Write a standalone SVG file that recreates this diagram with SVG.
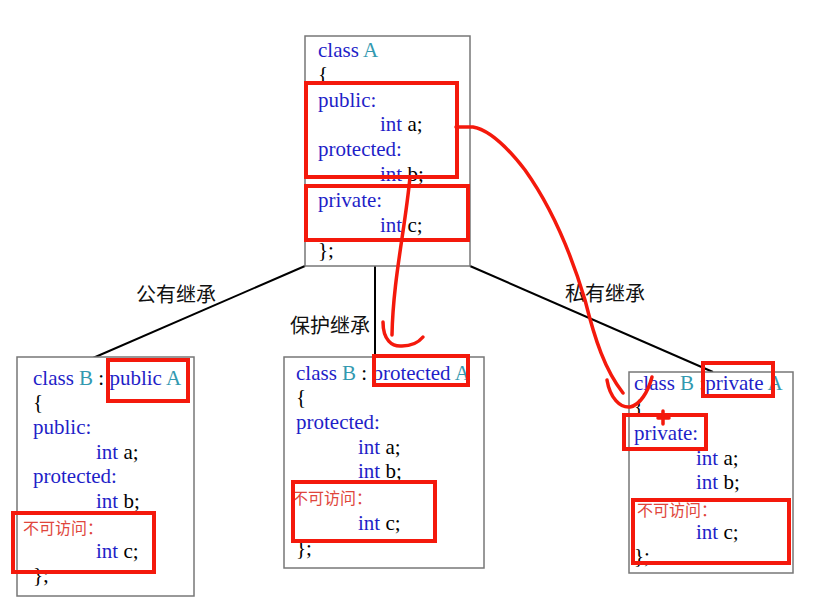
<svg xmlns="http://www.w3.org/2000/svg" width="838" height="614" viewBox="0 0 838 614">
<style>
.box{fill:#fff;stroke:#777;stroke-width:1.5}
.code{font-family:"Liberation Serif","Times New Roman",serif;font-size:21px;fill:#000}
.kw{fill:#1f1fc8}
.ty{fill:#3399b0}
.cn{font-family:"Noto Sans CJK SC","Noto Sans",sans-serif;font-size:16px;fill:#e0463c}
.lbl{font-family:"Noto Sans CJK SC","Noto Sans",sans-serif;font-size:20px;fill:#111}
.edge{stroke:#000;stroke-width:2;fill:none}
.hl{fill:none;stroke:#f4190c;stroke-width:4}
.ink{fill:none;stroke:#f4190c;stroke-width:3.5;stroke-linecap:round;stroke-linejoin:round}
</style>
<rect width="838" height="614" fill="#fff"/>
<g id="connectors">
<line class="edge" x1="305" y1="266" x2="93" y2="358"/>
<line class="edge" x1="375" y1="266" x2="375" y2="357"/>
<line class="edge" x1="470" y1="266" x2="713" y2="372"/>
</g>
<g id="labels">
<text class="lbl" x="136" y="302">公有继承</text>
<text class="lbl" x="290" y="333">保护继承</text>
<text class="lbl" x="565" y="301">私有继承</text>
</g>
<g id="classA">
<rect class="box" x="305" y="36" width="165" height="230"/>
<text class="code" x="318" y="57"><tspan class="kw">class</tspan> <tspan class="ty">A</tspan></text>
<text class="code" x="318" y="81">{</text>
<text class="code kw" x="318" y="107">public:</text>
<text class="code" x="380" y="131"><tspan class="kw">int</tspan> a;</text>
<text class="code kw" x="318" y="156">protected:</text>
<text class="code" x="380" y="181"><tspan class="kw">int</tspan> b;</text>
<text class="code kw" x="318" y="207">private:</text>
<text class="code" x="380" y="232"><tspan class="kw">int</tspan> c;</text>
<text class="code" x="318" y="257">};</text>
</g>
<g id="classB_public">
<rect class="box" x="17" y="357" width="177" height="239"/>
<text class="code" x="33" y="385"><tspan class="kw">class</tspan> <tspan class="ty">B</tspan> : <tspan class="kw">public</tspan> <tspan class="ty">A</tspan></text>
<text class="code" x="33" y="409">{</text>
<text class="code kw" x="33" y="434">public:</text>
<text class="code" x="96" y="459"><tspan class="kw">int</tspan> a;</text>
<text class="code kw" x="33" y="483">protected:</text>
<text class="code" x="96" y="508"><tspan class="kw">int</tspan> b;</text>
<text class="cn" x="23" y="534">不可访问：</text>
<text class="code" x="96" y="558"><tspan class="kw">int</tspan> c;</text>
<text class="code" x="33" y="582">};</text>
</g>
<g id="classB_protected">
<rect class="box" x="284" y="357" width="200" height="211"/>
<text class="code" x="296" y="380"><tspan class="kw">class</tspan> <tspan class="ty">B</tspan> : <tspan class="kw">protected</tspan> <tspan class="ty">A</tspan></text>
<text class="code" x="296" y="404">{</text>
<text class="code kw" x="296" y="429">protected:</text>
<text class="code" x="358" y="454"><tspan class="kw">int</tspan> a;</text>
<text class="code" x="358" y="478"><tspan class="kw">int</tspan> b;</text>
<text class="cn" x="292" y="504">不可访问：</text>
<text class="code" x="358" y="530"><tspan class="kw">int</tspan> c;</text>
<text class="code" x="296" y="555">};</text>
</g>
<g id="classB_private">
<rect class="box" x="629" y="372" width="164" height="201"/>
<text class="code" x="634" y="390"><tspan class="kw">class</tspan> <tspan class="ty">B</tspan> :<tspan class="kw">private</tspan> <tspan class="ty">A</tspan></text>
<text class="code" x="634" y="413">{</text>
<text class="code kw" x="634" y="440">private:</text>
<text class="code" x="696" y="465"><tspan class="kw">int</tspan> a;</text>
<text class="code" x="696" y="489"><tspan class="kw">int</tspan> b;</text>
<text class="cn" x="637" y="516">不可访问：</text>
<text class="code" x="696" y="539"><tspan class="kw">int</tspan> c;</text>
<text class="code" x="634" y="563">};</text>
</g>
<g id="annotations">
<rect class="hl" x="306" y="83" width="151" height="94"/>
<rect class="hl" x="306" y="186" width="162" height="54"/>
<rect class="hl" x="108" y="360" width="80" height="41"/>
<rect class="hl" x="13" y="513" width="141" height="59"/>
<rect class="hl" x="374" y="356" width="94" height="29"/>
<rect class="hl" x="293" y="482" width="142" height="59"/>
<rect class="hl" x="703" y="363" width="70" height="33"/>
<rect class="hl" x="624" y="415" width="82" height="34"/>
<rect class="hl" x="633" y="500" width="156" height="63"/>
<path class="ink" d="M456,127 L473,127 C490,130 508,148 525,170 C550,205 570,250 585,300 C595,340 605,370 623,393"/>
<path class="ink" d="M607,380 C610,398 620,408 630,407 C640,405 648,392 652,377"/>
<path class="ink" d="M410,177 C405,230 393,280 392,335"/>
<path class="ink" d="M383,322 C383,340 392,347 402,346 C412,346 418,343 423,337"/>
<path class="ink" d="M663,411 L663,424 M658,418 L669,418" stroke-width="2"/>
</g>
</svg>
